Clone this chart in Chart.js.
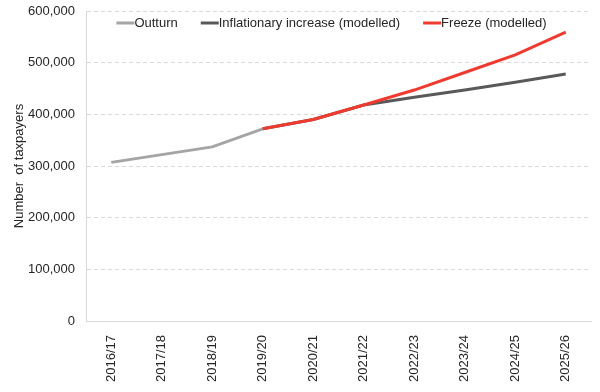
<!DOCTYPE html>
<html lang="en">
<head>
<meta charset="UTF-8">
<title>Number of taxpayers</title>
<script src="https://cdn.jsdelivr.net/npm/chart.js"></script>
<style>
    body { margin: 0; background: #fff; }
    .wrap { position: relative; width: 600px; height: 392px; }
</style>
</head>
<body>
<div class="wrap"><canvas id="chart"></canvas></div>
<script>
    const years = ['2016/17', '2017/18', '2018/19', '2019/20', '2020/21', '2021/22', '2022/23', '2023/24', '2024/25', '2025/26'];
    const outturn = [307000, 322000, 337000, 372000, null, null, null, null, null, null];
    const inflationary = [null, null, null, 372000, 390000, 418000, 433000, 447000, 462000, 478000];
    const freeze = [null, null, null, 372000, 390000, 418000, 447000, 481000, 515000, 559000];
    const yTicks = [0, 100000, 200000, 300000, 400000, 500000, 600000];

    const FONT = "'Liberation Sans', Arial, sans-serif";
    Chart.defaults.font.family = FONT;
    Chart.defaults.font.size = 13;
    Chart.defaults.color = '#404040';

    // Excel style legend: one row inside the plot, line sample touching the text
    const insideLegend = {
        id: 'insideLegend',
        afterDraw(chart) {
            const ctx = chart.ctx;
            const area = chart.chartArea;
            const sample = 18, gap = 23;
            ctx.save();
            ctx.font = '13px ' + FONT;
            ctx.textBaseline = 'middle';
            const items = chart.data.datasets.map(ds => ({
                text: ds.label,
                color: ds.borderColor,
                w: sample + ctx.measureText(ds.label).width
            }));
            const total = items.reduce((s, it) => s + it.w, 0) + gap * (items.length - 1);
            let x = (area.left + area.right) / 2 - total / 2 - 7;
            const y = area.top + 12;
            items.forEach(it => {
                ctx.strokeStyle = it.color;
                ctx.lineWidth = 3;
                ctx.beginPath();
                ctx.moveTo(x, y);
                ctx.lineTo(x + sample, y);
                ctx.stroke();
                ctx.fillStyle = '#262626';
                ctx.fillText(it.text, x + sample, y);
                x += it.w + gap;
            });
            ctx.restore();
        }
    };

    new Chart(document.getElementById('chart'), {
        type: 'line',
        data: {
            labels: years,
            datasets: [
                { label: 'Outturn', data: outturn, borderColor: '#a5a5a5', backgroundColor: '#a5a5a5', order: 3 },
                { label: 'Inflationary increase (modelled)', data: inflationary, borderColor: '#595959', backgroundColor: '#595959', order: 2 },
                { label: 'Freeze (modelled)', data: freeze, borderColor: '#ef3b2f', backgroundColor: '#ef3b2f', order: 1 }
            ]
        },
        options: {
            responsive: true,
            maintainAspectRatio: false,
            animation: false,
            layout: { padding: { top: 11, right: 9, left: 8, bottom: 0 } },
            elements: {
                line: { borderWidth: 3, tension: 0 },
                point: { radius: 0 }
            },
            plugins: {
                legend: { display: false },
                tooltip: { enabled: false }
            },
            scales: {
                x: {
                    offset: true,
                    grid: { display: false },
                    border: { display: true, color: '#d9d9d9', width: 1 },
                    ticks: { minRotation: 90, maxRotation: 90, padding: 6, color: '#262626' },
                    afterFit(scale) { scale.height = 71; }
                },
                y: {
                    min: 0,
                    max: 600000,
                    afterBuildTicks(scale) { scale.ticks = yTicks.map(v => ({ value: v })); },
                    ticks: {
                        padding: 11,
                        color: '#262626',
                        callback: v => v.toLocaleString('en-GB')
                    },
                    grid: { color: '#d9d9d9', drawTicks: false },
                    border: { display: true, color: '#d9d9d9', dash: [4, 3] },
                    title: {
                        display: true,
                        text: 'Number  of taxpayers',
                        color: '#262626',
                        padding: { top: 4, bottom: 4 }
                    },
                    afterFit(scale) {
                        scale.width = 78;
                        scale.paddingTop = 0;
                        scale.paddingBottom = 0;
                    }
                }
            }
        },
        plugins: [insideLegend]
    });
</script>
</body>
</html>
